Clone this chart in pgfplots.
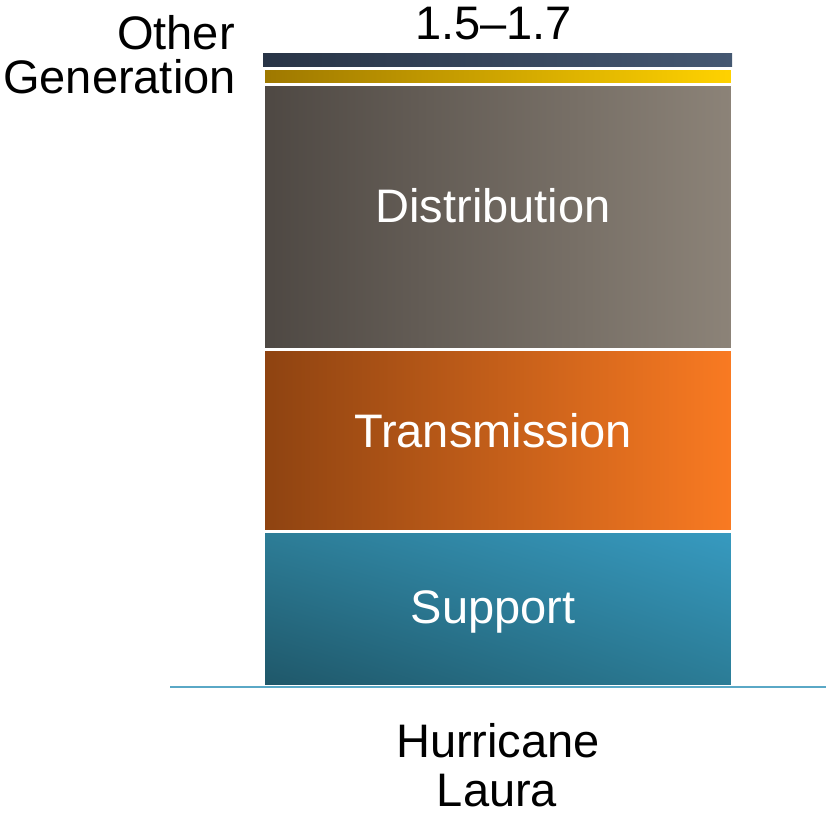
\documentclass[border=0pt]{standalone}
\usepackage{pgfplots}
\pgfplotsset{compat=1.18}
\usepackage{fontspec}
\setmainfont{Liberation Sans}
\usetikzlibrary{shadings}
\definecolor{othL}{HTML}{283446}
\definecolor{othR}{HTML}{455872}
\definecolor{genL}{HTML}{9E7800}
\definecolor{genR}{HTML}{FFD200}
\definecolor{disL}{HTML}{4E4843}
\definecolor{disR}{HTML}{8C8378}
\definecolor{traL}{HTML}{8E4311}
\definecolor{traR}{HTML}{F97A22}
\definecolor{supLL}{HTML}{1F5769}
\definecolor{supUL}{HTML}{2D7D97}
\definecolor{supLR}{HTML}{2B7C96}
\definecolor{supUR}{HTML}{379AC0}
\definecolor{baseln}{HTML}{5AA8C6}
\begin{document}
\begin{tikzpicture}[font=\fontsize{47.2}{56}\selectfont]
\begin{axis}[
  scale only axis, width=656bp, height=633bp,
  xmin=170, xmax=826, ymin=0, ymax=1.6,
  ybar stacked, bar width=469,
  hide axis, clip=false,
]
\addplot[draw=white, line width=3bp, lower left=supLL, upper left=supUL, lower right=supLR, upper right=supUR] coordinates {(497.5,0.39)};
\addplot[draw=white, line width=3bp, left color=traL, right color=traR] coordinates {(497.5,0.46)};
\addplot[draw=white, line width=3bp, left color=disL, right color=disR] coordinates {(497.5,0.67)};
\addplot[draw=white, line width=3bp, left color=genL, right color=genR] coordinates {(497.5,0.04)};
\addplot[draw=none, left color=othL, right color=othR] coordinates {(497.5,0.04)};
\coordinate (b0) at (axis cs:170,0);
\coordinate (b1) at (axis cs:826,0);
\coordinate (pDis) at (axis cs:493,1.1728);
\coordinate (pTra) at (axis cs:493,0.6041);
\coordinate (pSup) at (axis cs:493,0.1592);
\coordinate (pTot) at (axis cs:493.5,1.6329);
\coordinate (pHur) at (axis cs:498,-0.1795);
\coordinate (pLau) at (axis cs:497,-0.3058);
\coordinate (pOth) at (axis cs:235,1.6076);
\coordinate (pGen) at (axis cs:236,1.4989);
\coordinate (bl) at (axis cs:0,-0.3438);
\coordinate (tr) at (axis cs:826,1.7340);
\end{axis}
\draw[baseln, line width=2.5bp] ([yshift=-1bp]b0) -- ([yshift=-1bp]b1);
\node[anchor=base, text=white, inner sep=0pt] at (pDis) {Distribution};
\node[anchor=base, text=white, inner sep=0pt] at (pTra) {Transmission};
\node[anchor=base, text=white, inner sep=0pt] at (pSup) {Support};
\node[anchor=base, inner sep=0pt] at (pTot) {1.5--1.7};
\node[anchor=base, inner sep=0pt] at (pHur) {Hurricane};
\node[anchor=base, inner sep=0pt] at (pLau) {Laura};
\node[anchor=base east, inner sep=0pt] at (pOth) {Other};
\node[anchor=base east, inner sep=0pt] at (pGen) {Generation};
\pgfresetboundingbox
\path[use as bounding box] (bl) rectangle (tr);
\end{tikzpicture}
\end{document}
